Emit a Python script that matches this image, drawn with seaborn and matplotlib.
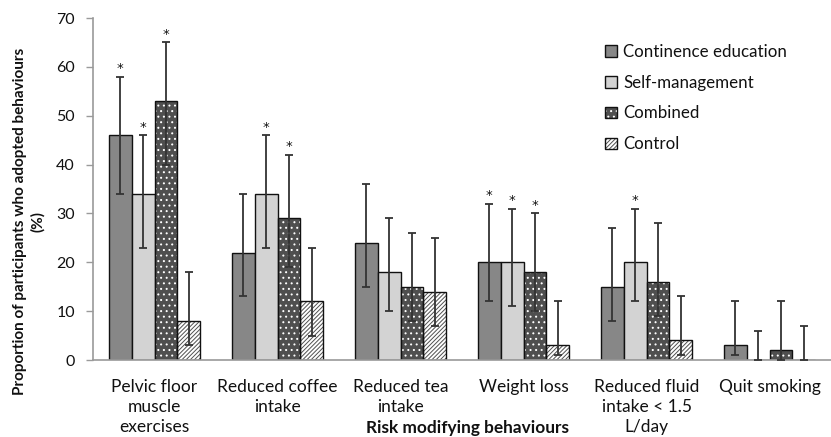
import matplotlib
matplotlib.use("Agg")
import matplotlib.pyplot as plt
from matplotlib.patches import Patch, Rectangle
from matplotlib.legend_handler import HandlerTuple
import seaborn as sns
import pandas as pd

categories = ["Pelvic floor\nmuscle\nexercises", "Reduced coffee\nintake", "Reduced tea\nintake",
              "Weight loss", "Reduced fluid\nintake < 1.5\nL/day", "Quit smoking"]
groups = ["Continence education", "Self-management", "Combined", "Control"]

ce_val = [46, 22, 24, 20, 15, 3]
ce_lo = [34, 13, 15, 12, 8, 1]
ce_hi = [58, 34, 36, 32, 27, 12]
sm_val = [34, 34, 18, 20, 20, 0]
sm_lo = [23, 23, 10, 11, 12, 0]
sm_hi = [46, 46, 29, 31, 31, 6]
cb_val = [53, 29, 15, 18, 16, 2]
cb_lo = [40, 19, 8, 10, 9, 0]
cb_hi = [65, 42, 26, 30, 28, 12]
ct_val = [8, 12, 14, 3, 4, 0]
ct_lo = [3, 5, 7, 1, 1, 0]
ct_hi = [18, 23, 25, 12, 13, 7]

ce_sig = [True, False, False, True, False, False]
sm_sig = [True, True, False, True, True, False]
cb_sig = [True, True, False, True, False, False]
ct_sig = [False, False, False, False, False, False]

vals = [ce_val, sm_val, cb_val, ct_val]
los = [ce_lo, sm_lo, cb_lo, ct_lo]
his = [ce_hi, sm_hi, cb_hi, ct_hi]
sigs = [ce_sig, sm_sig, cb_sig, ct_sig]

rows = []
for g, v in zip(groups, vals):
    for c, x in zip(categories, v):
        rows.append({"cat": c, "grp": g, "val": x})
df = pd.DataFrame(rows)

sns.set_theme(style="white")
plt.rcParams["font.family"] = ["Lato", "DejaVu Sans"]
plt.rcParams["hatch.linewidth"] = 0.7

face = {"Continence education": "#878787", "Self-management": "#d3d3d3",
        "Combined": "#4f4f4f", "Control": "#ffffff"}
hatch = {"Continence education": None, "Self-management": None,
         "Combined": "...", "Control": "////////"}
hcol = {"Combined": "#ffffff", "Control": "#505050"}

fig = plt.figure(figsize=(8.31, 4.37), dpi=100)
ax = fig.add_axes([93 / 831, (437 - 360) / 437, (831 - 93) / 831, 342 / 437])

sns.barplot(data=df, x="cat", y="val", hue="grp", order=categories, hue_order=groups,
            palette=face, width=0.745, errorbar=None, edgecolor="#111111",
            linewidth=1.0, legend=False, ax=ax, saturation=1)

for gi, g in enumerate(groups):
    cont = ax.containers[gi]
    xs = []
    for p in cont:
        xs.append(p.get_x() + p.get_width() / 2)
        if hatch[g]:
            p.set_hatch(hatch[g])
            p.set_edgecolor(hcol[g])
            p.set_linewidth(0)
            ax.add_patch(Rectangle((p.get_x(), p.get_y()), p.get_width(), p.get_height(),
                                   fill=False, edgecolor="#111111", linewidth=1.0, zorder=p.get_zorder() + 0.1))
    v, lo, hi = vals[gi], los[gi], his[gi]
    ax.errorbar(xs, v, yerr=[[a - b for a, b in zip(v, lo)], [c - a for a, c in zip(v, hi)]],
                fmt="none", ecolor="#333333", elinewidth=1.3, capsize=3, capthick=1.3, zorder=5)
    for x, h, s in zip(xs, hi, sigs[gi]):
        if s:
            ax.annotate("*", (x, h), xytext=(0, 1), textcoords="offset points",
                        ha="center", va="bottom", fontsize=9.5, color="#111111",
                        family=["DejaVu Sans"])

ax.set_xlim(-0.5, 5.5)
ax.set_ylim(0, 70)
ax.set_yticks(range(0, 71, 10))
for s in ["top", "right"]:
    ax.spines[s].set_visible(False)
for s in ["left", "bottom"]:
    ax.spines[s].set_color("#9a9a9a")
    ax.spines[s].set_linewidth(1.2)
ax.tick_params(axis="y", which="both", left=True, length=5, width=1, color="#9a9a9a",
               pad=8, labelsize=11.5, labelcolor="#111111")
ax.tick_params(axis="x", bottom=False, pad=8, labelsize=12.5, labelcolor="#111111")
for t in ax.get_xticklabels():
    t.set_linespacing(1.3)

ax.set_xlabel("Risk modifying behaviours", fontsize=12.4, fontweight="bold", color="#111111")
ax.xaxis.set_label_coords(0.508, -0.199)
ax.xaxis.label.set_va("center")
ax.set_ylabel("Proportion of participants who adopted behaviours\n(%)", fontsize=11,
              fontweight="bold", color="#111111", linespacing=1.3)
ax.yaxis.set_label_coords(-0.065, 0.404)

handles = []
for g in groups:
    if hatch[g]:
        h = (Patch(facecolor=face[g], edgecolor=hcol[g], hatch=hatch[g], linewidth=0),
             Patch(facecolor="none", edgecolor="#111111", linewidth=1.0))
    else:
        h = Patch(facecolor=face[g], edgecolor="#111111", linewidth=1.0)
    handles.append(h)
leg = ax.legend(handles=handles, labels=groups, loc="upper left", bbox_to_anchor=(0.694, 0.925),
                frameon=False, fontsize=12.2, handlelength=0.7, handleheight=0.7,
                handletextpad=0.35, labelspacing=0.88, borderpad=0, borderaxespad=0,
                handler_map={tuple: HandlerTuple(ndivide=1, pad=0)})
for t in leg.get_texts():
    t.set_color("#111111")

fig.savefig("out.png", dpi=100)
